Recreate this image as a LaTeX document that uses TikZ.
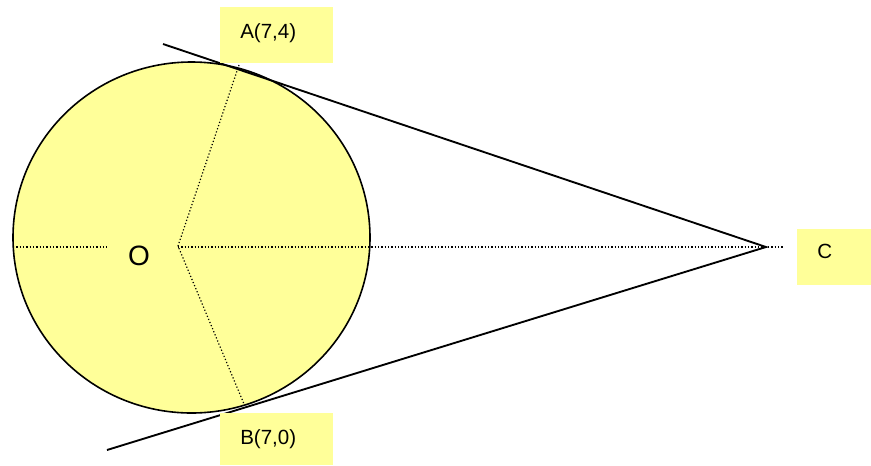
\documentclass[tikz,border=0pt]{standalone}
\usepackage{fontspec}
\setmainfont{Liberation Sans}
\definecolor{paleyellow}{HTML}{FFFF99}
\begin{document}
\begin{tikzpicture}[x=0.75pt,y=-0.75pt,
  labelbox/.style={fill=paleyellow, draw=none, anchor=north west, align=left,
    inner xsep=15pt, inner ysep=0pt,
    font=\fontsize{15.4}{18}\selectfont},
  dotline/.style={line width=0.9pt, dash pattern=on 0.9pt off 1.6pt},
  tangent/.style={line width=1.4pt}]
\useasboundingbox (0,0) rectangle (871,465);
% circle
\fill[paleyellow] (191.5,237.5) ellipse [x radius=178.5, y radius=175.5];
\draw[line width=1.2pt] (191.5,237.5) ellipse [x radius=178.5, y radius=175.5];
% key points
\coordinate (V) at (178,246);
\coordinate (Apt) at (239,65);
\coordinate (Bpt) at (244,404);
\coordinate (C) at (766,247);
\coordinate (L1) at (13,247);
\coordinate (L2) at (107,247);
\coordinate (R2) at (783,247);
\coordinate (T1) at (163,44);
\coordinate (T2) at (107,450);
% dotted lines
\draw[dotline] (L1) -- (L2);
\draw[dotline] (V |- L1) -- (R2);
\draw[dotline] (Apt) -- (V) -- (Bpt);
% tangents
\draw[tangent] (T1) -- (C) -- (T2);
% labels
\node (O) at (139,256) {\fontsize{21}{24}\selectfont O};
\node[labelbox, text width=54.75pt, text height=23.6pt, text depth=18.4pt] (A) at (220,7) {A(7,4)};
\node[labelbox, text width=54.75pt, text height=23.6pt, text depth=15.4pt] (B) at (220,413) {B(7,0)};
\node[labelbox, text width=25.5pt, text height=22.1pt, text depth=19.9pt] (Cl) at (797,229) {C};
\end{tikzpicture}
\end{document}
